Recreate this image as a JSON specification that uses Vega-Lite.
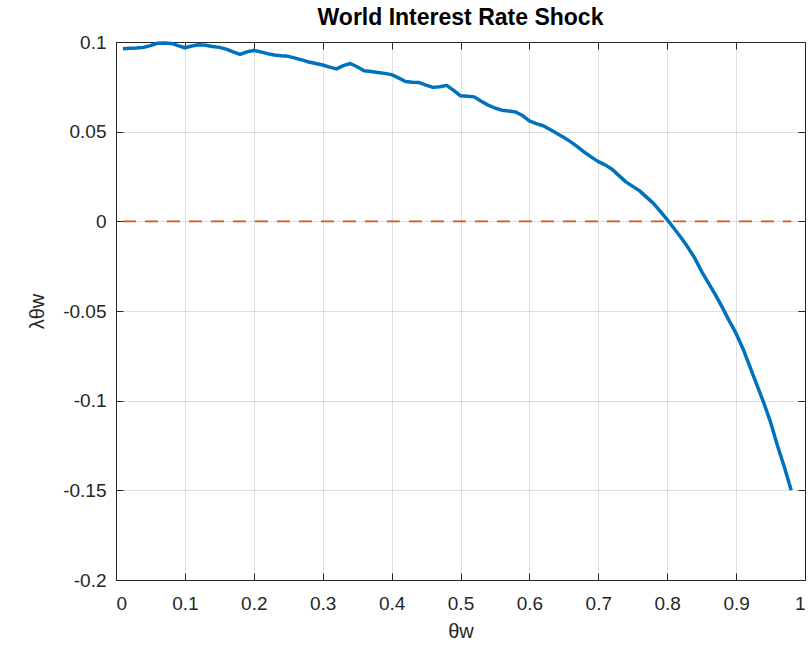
{
  "$schema": "https://vega.github.io/schema/vega-lite/v6.json",
  "width": 689,
  "height": 538,
  "autosize": {"type": "none"},
  "padding": {"left": 116, "top": 42, "right": 4, "bottom": 81},
  "background": "white",
  "title": {
    "text": "World Interest Rate Shock",
    "font": "Liberation Sans",
    "fontSize": 23,
    "fontWeight": "bold",
    "color": "#000000",
    "anchor": "middle",
    "offset": 3
  },
  "config": {
    "view": {"stroke": "#262626", "strokeWidth": 1},
    "axis": {
      "labelFont": "Liberation Sans",
      "labelFontSize": 19,
      "labelColor": "#262626",
      "titleFont": "Liberation Sans",
      "titleFontSize": 20,
      "titleFontWeight": "normal",
      "titleColor": "#262626",
      "domainColor": "#262626",
      "domainWidth": 1,
      "tickColor": "#262626",
      "tickSize": -7,
      "tickWidth": 1,
      "gridColor": "#262626",
      "gridOpacity": 0.15,
      "gridWidth": 1
    }
  },
  "layer": [
    {
      "data": {
        "values": [
          {"theta": 0.01, "lambda": 0.0963},
          {"theta": 0.02, "lambda": 0.0965},
          {"theta": 0.03, "lambda": 0.0966},
          {"theta": 0.04, "lambda": 0.0970},
          {"theta": 0.05, "lambda": 0.0980},
          {"theta": 0.06, "lambda": 0.0993},
          {"theta": 0.07, "lambda": 0.0995},
          {"theta": 0.08, "lambda": 0.0992},
          {"theta": 0.09, "lambda": 0.0980},
          {"theta": 0.10, "lambda": 0.0968},
          {"theta": 0.11, "lambda": 0.0978},
          {"theta": 0.12, "lambda": 0.0985},
          {"theta": 0.13, "lambda": 0.0982},
          {"theta": 0.14, "lambda": 0.0975},
          {"theta": 0.15, "lambda": 0.0970},
          {"theta": 0.16, "lambda": 0.0960},
          {"theta": 0.17, "lambda": 0.0945},
          {"theta": 0.18, "lambda": 0.0931},
          {"theta": 0.19, "lambda": 0.0945},
          {"theta": 0.20, "lambda": 0.0953},
          {"theta": 0.21, "lambda": 0.0945},
          {"theta": 0.22, "lambda": 0.0935},
          {"theta": 0.23, "lambda": 0.0928},
          {"theta": 0.24, "lambda": 0.0923},
          {"theta": 0.25, "lambda": 0.0920},
          {"theta": 0.26, "lambda": 0.0910},
          {"theta": 0.27, "lambda": 0.0900},
          {"theta": 0.28, "lambda": 0.0888},
          {"theta": 0.29, "lambda": 0.0880},
          {"theta": 0.30, "lambda": 0.0872},
          {"theta": 0.31, "lambda": 0.0860},
          {"theta": 0.32, "lambda": 0.0850},
          {"theta": 0.33, "lambda": 0.0868},
          {"theta": 0.34, "lambda": 0.0880},
          {"theta": 0.35, "lambda": 0.0862},
          {"theta": 0.36, "lambda": 0.0840},
          {"theta": 0.37, "lambda": 0.0835},
          {"theta": 0.38, "lambda": 0.0830},
          {"theta": 0.39, "lambda": 0.0825},
          {"theta": 0.40, "lambda": 0.0818},
          {"theta": 0.41, "lambda": 0.0800},
          {"theta": 0.42, "lambda": 0.0780},
          {"theta": 0.43, "lambda": 0.0776},
          {"theta": 0.44, "lambda": 0.0774},
          {"theta": 0.45, "lambda": 0.0760},
          {"theta": 0.46, "lambda": 0.0747},
          {"theta": 0.47, "lambda": 0.0750},
          {"theta": 0.48, "lambda": 0.0758},
          {"theta": 0.49, "lambda": 0.0730},
          {"theta": 0.50, "lambda": 0.0700},
          {"theta": 0.51, "lambda": 0.0697},
          {"theta": 0.52, "lambda": 0.0694},
          {"theta": 0.53, "lambda": 0.0670},
          {"theta": 0.54, "lambda": 0.0648},
          {"theta": 0.55, "lambda": 0.0632},
          {"theta": 0.56, "lambda": 0.0620},
          {"theta": 0.57, "lambda": 0.0615},
          {"theta": 0.58, "lambda": 0.0610},
          {"theta": 0.59, "lambda": 0.0590},
          {"theta": 0.60, "lambda": 0.0560},
          {"theta": 0.61, "lambda": 0.0545},
          {"theta": 0.62, "lambda": 0.0533},
          {"theta": 0.63, "lambda": 0.0512},
          {"theta": 0.64, "lambda": 0.0490},
          {"theta": 0.65, "lambda": 0.0468},
          {"theta": 0.66, "lambda": 0.0443},
          {"theta": 0.67, "lambda": 0.0415},
          {"theta": 0.68, "lambda": 0.0385},
          {"theta": 0.69, "lambda": 0.0358},
          {"theta": 0.70, "lambda": 0.0333},
          {"theta": 0.71, "lambda": 0.0315},
          {"theta": 0.72, "lambda": 0.0290},
          {"theta": 0.73, "lambda": 0.0255},
          {"theta": 0.74, "lambda": 0.0220},
          {"theta": 0.75, "lambda": 0.0195},
          {"theta": 0.76, "lambda": 0.0170},
          {"theta": 0.77, "lambda": 0.0135},
          {"theta": 0.78, "lambda": 0.0100},
          {"theta": 0.79, "lambda": 0.0055},
          {"theta": 0.80, "lambda": 0.0010},
          {"theta": 0.81, "lambda": -0.0040},
          {"theta": 0.82, "lambda": -0.0090},
          {"theta": 0.83, "lambda": -0.0145},
          {"theta": 0.84, "lambda": -0.0205},
          {"theta": 0.85, "lambda": -0.0280},
          {"theta": 0.86, "lambda": -0.0345},
          {"theta": 0.87, "lambda": -0.0410},
          {"theta": 0.88, "lambda": -0.0480},
          {"theta": 0.89, "lambda": -0.0555},
          {"theta": 0.90, "lambda": -0.0625},
          {"theta": 0.91, "lambda": -0.0710},
          {"theta": 0.92, "lambda": -0.0810},
          {"theta": 0.93, "lambda": -0.0910},
          {"theta": 0.94, "lambda": -0.1010},
          {"theta": 0.95, "lambda": -0.1120},
          {"theta": 0.96, "lambda": -0.1250},
          {"theta": 0.97, "lambda": -0.1370},
          {"theta": 0.98, "lambda": -0.1500}
        ]
      },
      "mark": {"type": "line", "color": "#0072BD", "strokeWidth": 3.5, "strokeJoin": "round"},
      "encoding": {
        "x": {
          "field": "theta",
          "type": "quantitative",
          "scale": {"domain": [0, 1], "nice": false, "zero": false},
          "axis": {
            "orient": "bottom",
            "values": [0, 0.1, 0.2, 0.3, 0.4, 0.5, 0.6, 0.7, 0.8, 0.9, 1],
            "labelExpr": "replace(format(datum.value, '~g'), '\u2212', '-')",
            "labelPadding": 21,
            "title": "θw",
            "titlePadding": 8,
            "grid": true
          }
        },
        "y": {
          "field": "lambda",
          "type": "quantitative",
          "scale": {"domain": [-0.2, 0.1], "nice": false, "zero": false},
          "axis": {
            "orient": "left",
            "values": [-0.2, -0.15, -0.1, -0.05, 0, 0.05, 0.1],
            "labelExpr": "replace(format(datum.value, '~g'), '\u2212', '-')",
            "labelPadding": 17,
            "title": "λθw",
            "titlePadding": 15,
            "grid": true
          }
        }
      }
    },
    {
      "data": {"values": [{"theta": 0.01, "lambda": 0}, {"theta": 0.98, "lambda": 0}]},
      "mark": {"type": "line", "color": "#D95319", "strokeWidth": 1.6, "strokeDash": [13, 9]},
      "encoding": {
        "x": {
          "field": "theta",
          "type": "quantitative",
          "axis": {
            "orient": "top",
            "values": [0, 0.1, 0.2, 0.3, 0.4, 0.5, 0.6, 0.7, 0.8, 0.9, 1],
            "labels": false,
            "title": null,
            "grid": false
          }
        },
        "y": {
          "field": "lambda",
          "type": "quantitative",
          "axis": {
            "orient": "right",
            "values": [-0.2, -0.15, -0.1, -0.05, 0, 0.05, 0.1],
            "labels": false,
            "title": null,
            "grid": false
          }
        }
      }
    }
  ],
  "resolve": {"axis": {"x": "independent", "y": "independent"}}
}
